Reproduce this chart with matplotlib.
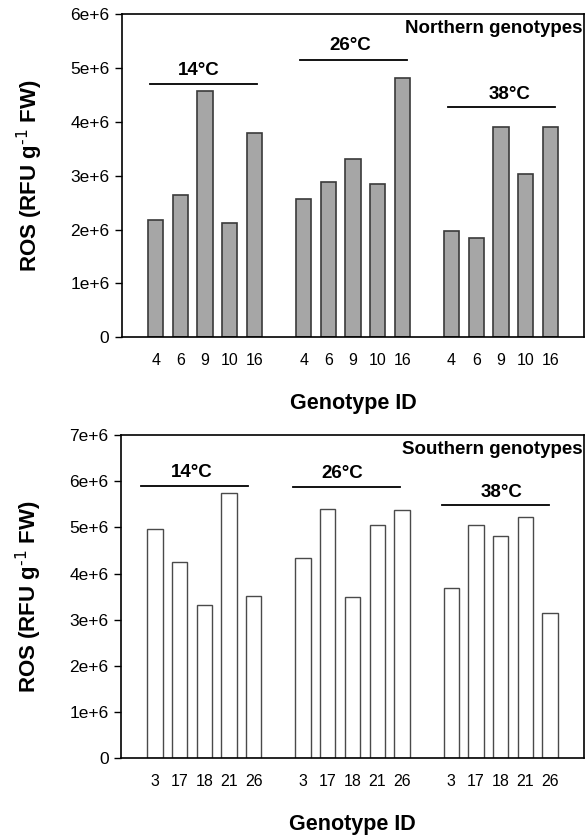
import matplotlib
matplotlib.use("Agg")
import matplotlib.pyplot as plt
import numpy as np

plt.rcParams['font.family'] = ['Liberation Sans', 'DejaVu Sans']

# ---- data ----
temps = ["14°C", "26°C", "38°C"]
north_ids = ["4", "6", "9", "10", "16"]
north_vals = [
    [2.18e6, 2.65e6, 4.58e6, 2.13e6, 3.79e6],
    [2.57e6, 2.88e6, 3.30e6, 2.84e6, 4.81e6],
    [1.98e6, 1.85e6, 3.90e6, 3.03e6, 3.90e6],
]
south_ids = ["3", "17", "18", "21", "26"]
south_vals = [
    [4.96e6, 4.24e6, 3.31e6, 5.75e6, 3.51e6],
    [4.34e6, 5.39e6, 3.49e6, 5.05e6, 5.38e6],
    [3.69e6, 5.05e6, 4.82e6, 5.23e6, 3.15e6],
]
north_yticks = [0, 1e6, 2e6, 3e6, 4e6, 5e6, 6e6]
north_yticklabels = ["0", "1e+6", "2e+6", "3e+6", "4e+6", "5e+6", "6e+6"]
south_yticks = [0, 1e6, 2e6, 3e6, 4e6, 5e6, 6e6, 7e6]
south_yticklabels = ["0", "1e+6", "2e+6", "3e+6", "4e+6", "5e+6", "6e+6", "7e+6"]

# annotation layout (line y, text baseline y, line x extents, text x)
north_line_y = [4.70e6, 5.15e6, 4.28e6]
north_text_y = [4.87e6, 5.33e6, 4.43e6]
north_line_x = [(-0.23, 4.1), (5.87, 10.21), (11.86, 16.2)]
north_text_x = [1.75, 7.88, 14.34]
south_line_y = [5.89e6, 5.88e6, 5.48e6]
south_text_y = [6.10e6, 6.06e6, 5.66e6]
south_line_x = [(-0.56, 3.79), (5.59, 9.92), (11.62, 15.94)]
south_text_x = [1.5, 7.6, 14.05]

fig = plt.figure(figsize=(5.86, 8.4), dpi=100)
ax1 = fig.add_axes([122/586, 1-337.3/840, (584-122)/586, (337.3-14)/840])
ax2 = fig.add_axes([121/586, 1-758.3/840, (584-121)/586, (758.3-435)/840])


def draw(ax, ids, vals, yticks, ytl, ymax, face, edge, lw, title,
         line_y, text_y, line_x, text_x):
    pos = []
    labels = []
    heights = []
    for g, gv in enumerate(vals):
        for i, v in enumerate(gv):
            pos.append(g * 6 + i)
            labels.append(ids[i])
            heights.append(v)
    ax.bar(pos, heights, width=0.62, color=face, edgecolor=edge, linewidth=lw, zorder=2)
    ax.set_xlim(-1.37, 17.37)
    ax.set_ylim(0, ymax)
    ax.set_xticks(pos)
    ax.set_xticklabels(labels, fontsize=11.5)
    ax.tick_params(axis='x', length=0, pad=11)
    ax.set_yticks(yticks)
    ax.set_yticklabels(ytl, fontsize=12.5)
    ax.tick_params(axis='y', length=5, width=1, direction='out', pad=4, color='black')
    for s in ax.spines.values():
        s.set_linewidth(1.2)
    ax.set_ylabel("ROS (RFU g$^{\\text{-1}}$ FW)", fontsize=16, fontweight='bold', labelpad=18.5)
    ax.set_xlabel("Genotype ID", fontsize=15.5, fontweight='bold', labelpad=18)
    for t, ly, ty, (x0, x1), tx in zip(temps, line_y, text_y, line_x, text_x):
        ax.plot([x0, x1], [ly, ly], color='black', lw=1.3, zorder=3)
        ax.text(tx, ty, t, ha='center', va='baseline', fontsize=13.5, fontweight='bold')
    ax.text(0.996, 0.940, title, transform=ax.transAxes, ha='right', va='baseline',
            fontsize=13.5, fontweight='bold')


draw(ax1, north_ids, north_vals, north_yticks, north_yticklabels, 6e6,
     '#a6a6a6', '#3a3a3a', 1.2, "Northern genotypes",
     north_line_y, north_text_y, north_line_x, north_text_x)
draw(ax2, south_ids, south_vals, south_yticks, south_yticklabels, 7e6,
     'white', '#4a4a4a', 1.0, "Southern genotypes",
     south_line_y, south_text_y, south_line_x, south_text_x)

fig.savefig("out.png", dpi=100)
